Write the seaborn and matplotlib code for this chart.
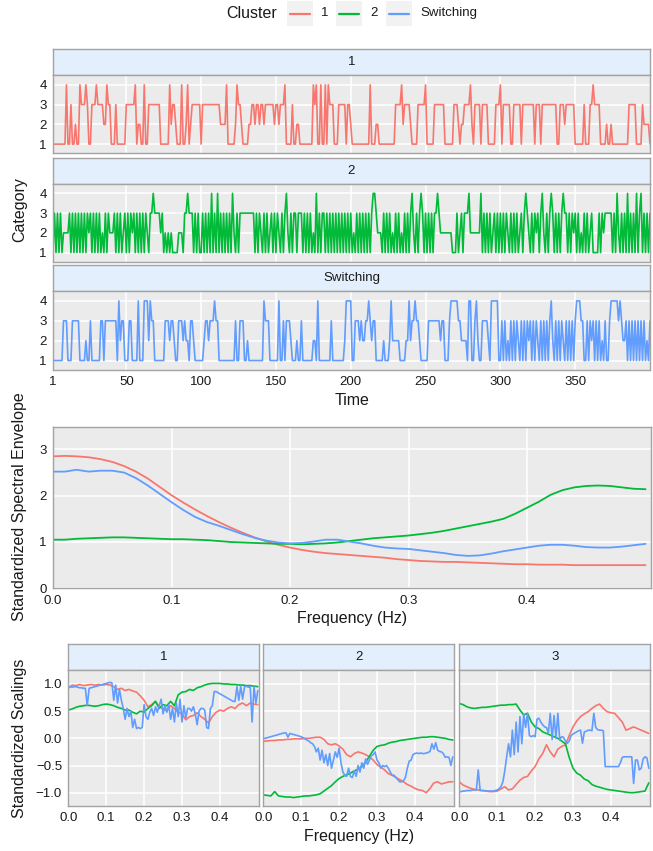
import numpy as np
import pandas as pd
import matplotlib
matplotlib.use("Agg")
import matplotlib.pyplot as plt
import seaborn as sns
from matplotlib.patches import Rectangle
from matplotlib.lines import Line2D

# ---------------- data ----------------
clusters = ["1", "2", "Switching"]
palette = {"1": "#F8766D", "2": "#00BA38", "Switching": "#619CFF"}

series_1 = ("1111111114" "1131121143" "3343113334" "3333224331" "1131111113"
            "3333341221" "1411333333" "3311111142" "3321114112" "4123333331"
            "3333333333" "3322224111" "1124332111" "1223323323" "3233333323"
            "3233341111" "3112211111" "1111434114" "1141433311" "1333331332"
            "1111111111" "1141112211" "1111111113" "3334233332" "1111333334"
            "1111133333" "3311111133" "3212233334" "2133331333" "3111113334"
            "1333331133" "3331333333" "3313331333" "3333333113" "3323333331"
            "1111131113" "3433331111" "2112111111" "1111133333" "1111322221")
series_2 = ("1313131222" "2313131313" "1313231313" "1312131322" "2313131231"
            "3132313131" "3132133433" "3323121212" "1111222133" "4333131311"
            "3131314131" "4131313131" "4213133333" "3333313132" "1313123131"
            "3213134213" "1331333131" "3131214131" "3313131313" "1313131313"
            "1213131313" "1313443222" "1313131213" "1312131313" "4213134313"
            "1313133432" "2222222111" "3123133342" "2222224131" "3131231313"
            "1313213131" "3123134321" "3132313421" "3134313131" "3433131323"
            "1312131312" "3111131323" "3333131421" "3131413131" "4134131313")
series_switch = ("1111111333" "1113333311" "1121131111" "1133133333" "3331423311"
                 "1331111411" "1444243311" "1111133323" "3211333232" "2133211111"
                 "1233233343" "3111111111" "1131133311" "2111111111" "1433311111"
                 "1411313332" "1112113111" "1111221411" "1111113111" "1111124444"
                 "1133323223" "3432331111" "1211124222" "2211112242" "3343321111"
                 "1333333332" "3311134444" "4332222144" "1134211333" "3214444411"
                 "3131213131" "3213131323" "1313213131" "3134213131" "3213131313"
                 "4443311313" "2313131213" "1134444434" "3223131313" "1313131213")
category_series = {"1": [int(c) for c in series_1],
                   "2": [int(c) for c in series_2],
                   "Switching": [int(c) for c in series_switch]}
time_ticks = [1, 50, 100, 150, 200, 250, 300, 350]

# spectral envelope (frequency grid 0.00 .. 0.50, step 0.01)
env_freq = [round(0.01 * i, 2) for i in range(51)]
env_1 = [2.85, 2.86, 2.85, 2.83, 2.79, 2.73, 2.64, 2.52, 2.37, 2.19, 2.01, 1.85, 1.70,
         1.56, 1.43, 1.31, 1.20, 1.10, 1.01, 0.94, 0.88, 0.83, 0.79, 0.76, 0.74, 0.72,
         0.70, 0.68, 0.66, 0.63, 0.61, 0.59, 0.58, 0.57, 0.57, 0.56, 0.55, 0.54, 0.53,
         0.52, 0.52, 0.51, 0.51, 0.51, 0.50, 0.50, 0.50, 0.50, 0.50, 0.50, 0.50]
env_2 = [1.05, 1.05, 1.07, 1.08, 1.09, 1.10, 1.10, 1.09, 1.08, 1.07, 1.06, 1.06, 1.05,
         1.04, 1.02, 1.00, 0.99, 0.98, 0.97, 0.96, 0.96, 0.95, 0.96, 0.97, 0.99, 1.02,
         1.05, 1.08, 1.10, 1.12, 1.14, 1.17, 1.20, 1.24, 1.29, 1.34, 1.39, 1.44, 1.50,
         1.61, 1.74, 1.87, 2.02, 2.12, 2.18, 2.21, 2.22, 2.21, 2.18, 2.15, 2.14]
env_sw = [2.52, 2.52, 2.56, 2.52, 2.54, 2.54, 2.50, 2.38, 2.22, 2.04, 1.86, 1.69, 1.54,
          1.43, 1.35, 1.26, 1.17, 1.09, 1.03, 0.99, 0.97, 0.98, 1.01, 1.05, 1.05, 1.01,
          0.97, 0.92, 0.88, 0.86, 0.85, 0.82, 0.79, 0.76, 0.72, 0.70, 0.71, 0.75, 0.80,
          0.84, 0.88, 0.92, 0.94, 0.94, 0.92, 0.89, 0.88, 0.88, 0.90, 0.93, 0.96]

# standardized scalings: red/green on 0.01 grid, switching on 0.005 grid
fine_freq = [round(0.005 * i, 3) for i in range(101)]
scal_categories = ["1", "2", "3"]
scal_1 = {
    "1": [0.92, 0.98, 0.97, 0.99, 0.97, 0.98, 0.99, 0.98, 0.99, 0.98, 0.99, 0.98, 0.95,
          0.90, 0.92, 0.88, 0.90, 0.87, 0.85, 0.78, 0.70, 0.58, 0.62, 0.68, 0.58, 0.55,
          0.50, 0.60, 0.55, 0.48, 0.45, 0.34, 0.40, 0.42, 0.47, 0.40, 0.35, 0.28, 0.40,
          0.48, 0.52, 0.50, 0.55, 0.58, 0.55, 0.62, 0.65, 0.60, 0.65, 0.63, 0.62],
    "2": [-0.05, -0.05, -0.04, -0.04, -0.03, -0.03, -0.02, -0.02, -0.01, -0.01, -0.01,
          0.00, 0.00, 0.01, 0.02, 0.02, -0.02, -0.10, -0.12, -0.10, -0.14, -0.20, -0.30,
          -0.34, -0.28, -0.25, -0.27, -0.30, -0.34, -0.40, -0.48, -0.53, -0.58, -0.65,
          -0.68, -0.72, -0.76, -0.80, -0.85, -0.88, -0.92, -0.95, -0.96, -1.00, -0.92,
          -0.82, -0.80, -0.84, -0.82, -0.80, -0.80],
    "3": [-0.80, -0.86, -0.89, -0.92, -0.94, -0.95, -0.96, -0.97, -0.98, -0.98, -0.97,
          -0.93, -0.89, -0.95, -0.93, -0.85, -0.77, -0.72, -0.70, -0.60, -0.52, -0.38,
          -0.28, -0.12, -0.25, -0.34, -0.20, -0.15, -0.12, 0.05, 0.21, 0.32, 0.40, 0.45,
          0.49, 0.55, 0.60, 0.63, 0.55, 0.49, 0.47, 0.46, 0.38, 0.30, 0.15, 0.18, 0.21,
          0.18, 0.15, 0.12, 0.09],
}
scal_2 = {
    "1": [0.52, 0.54, 0.57, 0.59, 0.60, 0.61, 0.60, 0.59, 0.60, 0.62, 0.63, 0.62, 0.60,
          0.57, 0.55, 0.52, 0.52, 0.48, 0.45, 0.50, 0.48, 0.55, 0.60, 0.68, 0.55, 0.62,
          0.60, 0.68, 0.60, 0.80, 0.85, 0.86, 0.90, 0.88, 0.93, 0.95, 0.98, 1.00, 1.01,
          1.01, 1.01, 1.00, 1.00, 0.99, 0.99, 0.98, 0.98, 0.97, 0.97, 0.96, 0.95],
    "2": [-1.04, -1.05, -1.06, -0.98, -1.06, -1.07, -1.08, -1.08, -1.09, -1.08, -1.07,
          -1.06, -1.06, -1.05, -1.04, -1.02, -0.97, -0.92, -0.87, -0.80, -0.74, -0.70,
          -0.67, -0.64, -0.60, -0.57, -0.52, -0.44, -0.33, -0.22, -0.15, -0.13, -0.12,
          -0.09, -0.07, -0.06, -0.04, -0.03, -0.02, -0.01, 0.00, 0.01, 0.02, 0.02, 0.03,
          0.03, 0.02, 0.01, 0.00, -0.02, -0.03],
    "3": [0.64, 0.62, 0.58, 0.56, 0.55, 0.56, 0.57, 0.57, 0.58, 0.59, 0.60, 0.61, 0.61,
          0.62, 0.62, 0.63, 0.52, 0.43, 0.46, 0.30, 0.21, 0.18, 0.12, 0.09, 0.06, 0.03,
          0.00, -0.05, -0.10, -0.35, -0.55, -0.64, -0.68, -0.75, -0.78, -0.85, -0.88,
          -0.90, -0.92, -0.94, -0.95, -0.96, -0.97, -0.98, -0.99, -1.00, -1.00, -0.99,
          -0.98, -0.97, -0.82],
}
scal_sw = {
    "1": [0.95, 0.95, 0.94, 0.95, 0.95, 0.94, 0.93, 0.93, 0.92, 0.92, 0.60, 0.92, 0.93,
          0.94, 0.95, 0.96, 0.97, 0.98, 0.99, 1.00, 1.01, 1.02, 1.03, 1.02, 0.70, 0.98,
          0.65, 0.90, 0.70, 0.55, 0.35, 0.55, 0.40, 0.50, 0.20, 0.35, 0.18, 0.20, 0.18,
          0.20, 0.62, 0.40, 0.35, 0.48, 0.55, 0.42, 0.58, 0.48, 0.60, 0.72, 0.45, 0.60,
          0.48, 0.62, 0.35, 0.55, 0.30, 0.65, 0.40, 0.72, 0.30, 0.60, 0.38, 0.55, 0.55,
          0.50, 0.58, 0.45, 0.25, 0.50, 0.55, 0.55, 0.52, 0.20, 0.18, 0.55, 0.60, 0.86,
          0.86, 0.84, 0.82, 0.80, 0.78, 0.76, 0.74, 0.72, 0.70, 0.68, 0.68, 0.95, 0.70,
          0.96, 0.72, 0.95, 0.96, 0.94, 0.95, 0.30, 0.95, 0.65, 0.88],
    "2": [0.00, 0.00, 0.01, 0.02, 0.03, 0.04, 0.05, 0.06, 0.07, 0.08, 0.09, 0.10, 0.10,
          0.02, 0.09, 0.08, 0.07, 0.06, 0.05, 0.04, 0.03, 0.01, -0.01, -0.03, -0.05,
          -0.08, -0.10, -0.15, -0.25, -0.18, -0.40, -0.22, -0.45, -0.30, -0.50, -0.28,
          -0.55, -0.40, -0.25, -0.35, -0.18, -0.45, -0.62, -0.68, -0.70, -0.55, -0.70,
          -0.72, -0.60, -0.70, -0.50, -0.62, -0.45, -0.55, -0.38, -0.48, -0.40, -0.32,
          -0.30, -0.25, -0.40, -0.45, -0.55, -0.50, -0.52, -0.50, -0.55, -0.62, -0.68,
          -0.68, -0.72, -0.76, -0.80, -0.80, -0.78, -0.72, -0.55, -0.42, -0.40, -0.30,
          -0.28, -0.27, -0.28, -0.27, -0.28, -0.28, -0.27, -0.26, -0.24, -0.10, -0.20,
          -0.08, -0.22, -0.24, -0.25, -0.28, -0.35, -0.34, -0.35, -0.50, -0.34],
    "3": [-0.98, -0.98, -0.97, -0.97, -0.96, -0.96, -0.96, -0.95, -0.95, -0.95, -0.58,
          -0.96, -0.96, -0.96, -0.97, -0.97, -0.97, -0.97, -0.97, -0.96, -0.95, -0.93,
          -0.89, -0.80, -0.60, -0.34, -0.10, -0.34, 0.15, -0.30, 0.30, -0.25, 0.40,
          -0.10, 0.45, 0.20, 0.46, 0.05, 0.03, 0.05, 0.03, 0.35, 0.37, 0.30, 0.25, 0.21,
          0.20, 0.10, 0.46, -0.02, 0.42, 0.00, 0.46, -0.03, 0.03, 0.02, -0.05, -0.09,
          -0.05, 0.05, 0.08, 0.10, 0.12, 0.14, 0.15, -0.09, 0.12, 0.13, 0.15, 0.15,
          0.14, 0.46, 0.20, 0.16, 0.15, 0.15, 0.14, -0.52, -0.52, -0.52, -0.52, -0.52,
          -0.52, -0.52, -0.52, -0.45, -0.35, -0.34, -0.34, -0.34, -0.34, -0.34, -0.83,
          -0.40, -0.40, -0.58, -0.55, -0.38, -0.34, -0.36, -0.55],
}

# ---------------- style ----------------
W, H = 653, 851
sns.set_style("darkgrid")
plt.rcParams["font.family"] = ["Liberation Sans", "DejaVu Sans"]
plt.rcParams["axes.unicode_minus"] = True

PANEL_BG = "#EBEBEB"
BORDER = "#A3A3A3"
STRIP_BG = "#E3EFFC"
TXT = "#1A1A1A"
TICK_FS = 9.5
TITLE_FS = 11.5

fig = plt.figure(figsize=(W / 100, H / 100), dpi=100)


def fig_rect(left, top, right, bottom):
    return [left / W, 1 - bottom / H, (right - left) / W, (bottom - top) / H]


def style_panel(ax):
    ax.set_facecolor(PANEL_BG)
    ax.grid(True, color="white", linewidth=1.1)
    ax.set_axisbelow(True)
    for s in ax.spines.values():
        s.set_visible(True)
        s.set_color(BORDER)
        s.set_linewidth(1.0)
    ax.tick_params(axis="both", which="major", length=2.5, width=0.6, color="#8C8C8C",
                   labelsize=TICK_FS, labelcolor=TXT, pad=2)
    ax.set_xlabel("")
    ax.set_ylabel("")


def add_strip(left, top, right, bottom, label):
    sax = fig.add_axes(fig_rect(left, top, right, bottom))
    sax.set_facecolor(STRIP_BG)
    sax.set_xticks([])
    sax.set_yticks([])
    sax.grid(False)
    for s in sax.spines.values():
        s.set_visible(True)
        s.set_color(BORDER)
        s.set_linewidth(1.0)
    sax.text(0.5, 0.5, label, ha="center", va="center", fontsize=TICK_FS, color=TXT,
             transform=sax.transAxes)


# ---------------- legend ----------------
fig.text(226 / W, 1 - 13 / H, "Cluster", ha="left", va="center", fontsize=TITLE_FS, color=TXT)
key_lefts = [287, 336, 386]
for cl, kl in zip(clusters, key_lefts):
    fig.add_artist(Rectangle((kl / W, 1 - 26 / H), 26 / W, 25 / H, transform=fig.transFigure,
                             facecolor="#F2F2F2", edgecolor="none"))
    fig.add_artist(Line2D([(kl + 3) / W, (kl + 23) / W], [1 - 13.5 / H, 1 - 13.5 / H],
                          transform=fig.transFigure, color=palette[cl], linewidth=1.6))
    fig.text((kl + 34) / W, 1 - 13 / H, cl, ha="left", va="center", fontsize=TICK_FS, color=TXT)

# ---------------- time series facets ----------------
time = np.arange(1, len(series_1) + 1)
rows = [(49, 75, 153), (157.5, 183.5, 261.5), (265, 291, 369.5)]
for i, cl in enumerate(clusters):
    st, pt, pb = rows[i]
    add_strip(53, st, 650, pt, cl)
    ax = fig.add_axes(fig_rect(53, pt, 650, pb))
    sns.lineplot(x=time, y=category_series[cl], ax=ax, color=palette[cl], linewidth=1.2,
                 estimator=None)
    style_panel(ax)
    ax.set_xlim(1, 400)
    ax.set_ylim(0.55, 4.5)
    ax.set_yticks([1, 2, 3, 4])
    ax.set_xticks(time_ticks)
    if i < 2:
        ax.tick_params(axis="x", labelbottom=False, length=0)
    else:
        ax.set_xticklabels([str(t) for t in time_ticks])

fig.text(20 / W, 1 - 210 / H, "Category", rotation=90, ha="center", va="center",
         fontsize=TITLE_FS, color=TXT)
fig.text(352 / W, 1 - 401 / H, "Time", ha="center", va="center", fontsize=TITLE_FS, color=TXT)

# ---------------- spectral envelope ----------------
env_df = pd.DataFrame({
    "freq": env_freq * 3,
    "value": env_1 + env_2 + env_sw,
    "cluster": ["1"] * len(env_freq) + ["2"] * len(env_freq) + ["Switching"] * len(env_freq),
})
ax = fig.add_axes(fig_rect(53, 426.7, 651, 588.3))
sns.lineplot(data=env_df, x="freq", y="value", hue="cluster", hue_order=clusters,
             palette=palette, ax=ax, linewidth=1.3, legend=False, estimator=None)
style_panel(ax)
ax.set_xlim(0, 0.5046)
ax.set_ylim(0, 3.49)
ax.set_xticks([0, 0.1, 0.2, 0.3, 0.4])
ax.set_xticklabels(["0.0", "0.1", "0.2", "0.3", "0.4"])
ax.set_yticks([0, 1, 2, 3])
fig.text(20 / W, 1 - 507 / H, "Standardized Spectral Envelope", rotation=90, ha="center",
         va="center", fontsize=TITLE_FS, color=TXT)
fig.text(352 / W, 1 - 618 / H, "Frequency (Hz)", ha="center", va="center",
         fontsize=TITLE_FS, color=TXT)

# ---------------- scalings facets ----------------
panel_x = [(68.3, 259.3), (263.3, 454.3), (459.3, 650.3)]
for j, cat in enumerate(scal_categories):
    l, r = panel_x[j]
    add_strip(l, 644.3, r, 670, cat)
    df = pd.DataFrame({
        "freq": env_freq + env_freq + fine_freq,
        "value": scal_1[cat] + scal_2[cat] + scal_sw[cat],
        "cluster": ["1"] * len(env_freq) + ["2"] * len(env_freq) + ["Switching"] * len(fine_freq),
    })
    ax = fig.add_axes(fig_rect(l, 670, r, 806))
    sns.lineplot(data=df, x="freq", y="value", hue="cluster", hue_order=clusters,
                 palette=palette, ax=ax, linewidth=1.2, legend=False, estimator=None)
    style_panel(ax)
    ax.set_xlim(0, 0.504)
    ax.set_ylim(-1.245, 1.257)
    ax.set_xticks([0, 0.1, 0.2, 0.3, 0.4])
    ax.set_xticklabels(["0.0", "0.1", "0.2", "0.3", "0.4"])
    ax.set_yticks([-1.0, -0.5, 0.0, 0.5, 1.0])
    if j == 0:
        ax.set_yticklabels(["\u22121.0", "\u22120.5", "0.0", "0.5", "1.0"])
    else:
        ax.tick_params(axis="y", labelleft=False, length=0)

fig.text(20 / W, 1 - 738 / H, "Standardized Scalings", rotation=90, ha="center",
         va="center", fontsize=TITLE_FS, color=TXT)
fig.text(359 / W, 1 - 836 / H, "Frequency (Hz)", ha="center", va="center",
         fontsize=TITLE_FS, color=TXT)

fig.savefig("out.png", dpi=100, facecolor="white")
